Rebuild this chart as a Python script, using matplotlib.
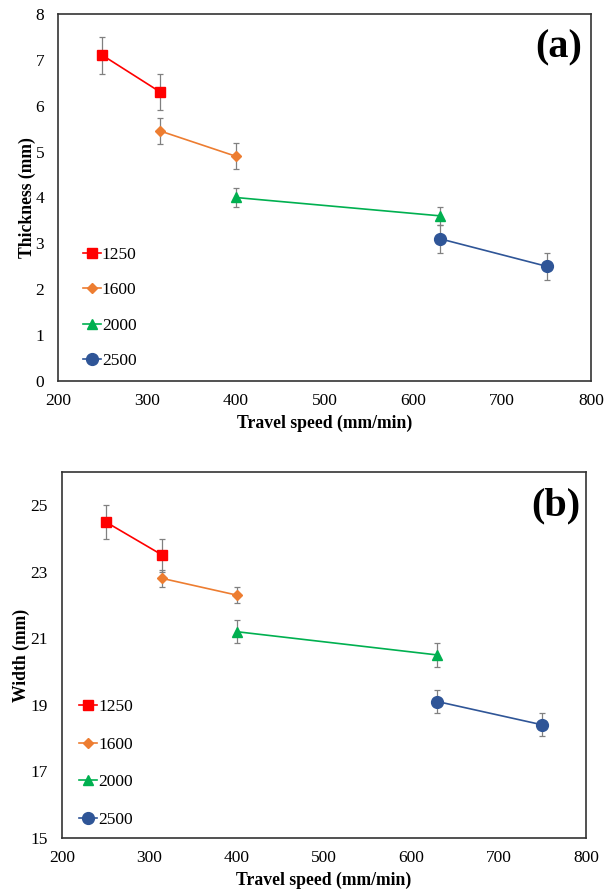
import matplotlib
matplotlib.use("Agg")
import matplotlib.pyplot as plt

plt.rcParams['font.family'] = ['Liberation Serif', 'DejaVu Serif']

series = ["1250", "1600", "2000", "2500"]
speeds = {
    "1250": [250, 315],
    "1600": [315, 400],
    "2000": [400, 630],
    "2500": [630, 750],
}
thickness = {
    "1250": [7.1, 6.3],
    "1600": [5.45, 4.9],
    "2000": [4.0, 3.6],
    "2500": [3.1, 2.5],
}
thickness_err = {
    "1250": [0.4, 0.4],
    "1600": [0.28, 0.28],
    "2000": [0.2, 0.2],
    "2500": [0.3, 0.3],
}
width = {
    "1250": [24.5, 23.5],
    "1600": [22.8, 22.3],
    "2000": [21.2, 20.5],
    "2500": [19.1, 18.4],
}
width_err = {
    "1250": [0.5, 0.5],
    "1600": [0.25, 0.25],
    "2000": [0.35, 0.35],
    "2500": [0.35, 0.35],
}

colors = {"1250": "#FF0000", "1600": "#ED7D31", "2000": "#00B050", "2500": "#2F5597"}
markers = {"1250": "s", "1600": "D", "2000": "^", "2500": "o"}
msizes = {"1250": 7.5, "1600": 5.5, "2000": 7.5, "2500": 8.5}

fig = plt.figure(figsize=(6.04, 8.91), dpi=100)
ax1 = fig.add_axes([0.096, 0.5724, 0.8825, 0.4119])
ax2 = fig.add_axes([0.1026, 0.0595, 0.8675, 0.4108])


def draw(ax, data, err, ylim, yticks, ylabel, ylpad, tag, tag_pos, leg_anchor, spacing):
    for s in series:
        ax.errorbar(speeds[s], data[s], yerr=err[s], fmt='none', ecolor='#808080',
                    elinewidth=0.9, capsize=2.5, capthick=0.9, zorder=2)
        ax.plot(speeds[s], data[s], color=colors[s], marker=markers[s],
                markersize=msizes[s], linewidth=1.2, label=s, zorder=3)
    ax.set_xlim(200, 800)
    ax.set_ylim(*ylim)
    ax.set_yticks(yticks)
    ax.set_xticks(range(200, 801, 100))
    ax.tick_params(length=0, labelsize=12.5)
    ax.tick_params(axis='x', pad=9)
    ax.tick_params(axis='y', pad=10)
    for sp in ax.spines.values():
        sp.set_linewidth(1.2)
        sp.set_color('#333333')
    ax.set_xlabel("Travel speed (mm/min)", fontsize=12.7, fontweight='bold', labelpad=4)
    ax.set_ylabel(ylabel, fontsize=12.7, fontweight='bold', labelpad=ylpad)
    ax.text(tag_pos[0], tag_pos[1], tag, transform=ax.transAxes, fontsize=29,
            fontweight='bold', ha='right', va='center')
    ax.legend(loc='upper left', bbox_to_anchor=leg_anchor, frameon=False, fontsize=12.5,
              handlelength=1.05, handletextpad=0.05, labelspacing=spacing,
              borderaxespad=0)


draw(ax1, thickness, thickness_err, (0, 8), range(0, 9), "Thickness (mm)", -0.5, "(a)",
     (0.983, 0.908), (0.0335, 0.3836), 1.095)
draw(ax2, width, width_err, (15, 26), range(15, 26, 2), "Width (mm)", 0.5, "(b)",
     (0.99, 0.908), (0.019, 0.398), 1.23)

fig.savefig("out.png", dpi=100)
